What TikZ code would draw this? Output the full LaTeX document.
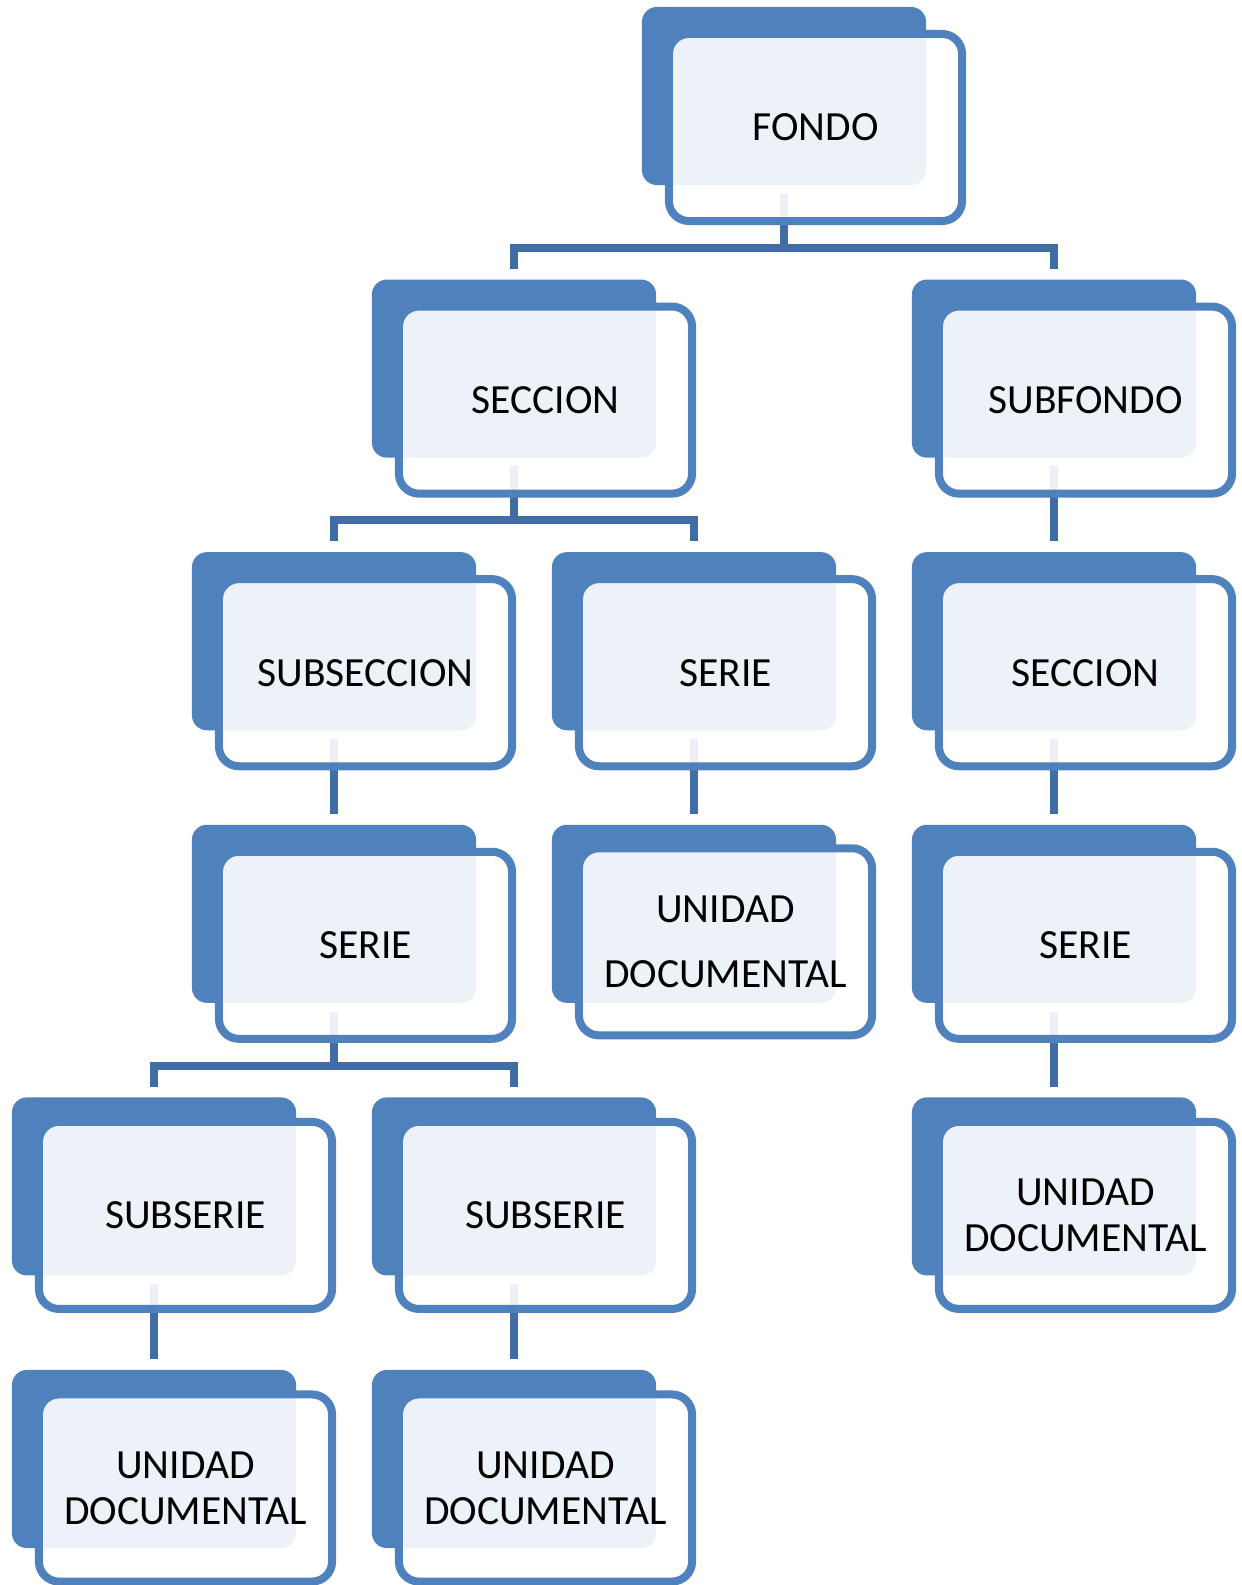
\documentclass[tikz,border=0pt]{standalone}
\usepackage{fontspec}
\setmainfont{Carlito}
\usetikzlibrary{positioning,backgrounds}
\definecolor{azul}{HTML}{4F81BD}
\definecolor{conector}{HTML}{426CA4}

\begin{document}
\begin{tikzpicture}[x=0.01cm, y=-0.01cm,
  fondoazul/.style={fill=azul, rounded corners=0.15cm, minimum width=2.84cm, minimum height=1.78cm, inner sep=0pt},
  caja/.style={draw=azul, line width=0.08cm, fill=white, fill opacity=0.9, text opacity=1, rounded corners=0.2cm,
    minimum width=2.93cm, minimum height=1.87cm, inner sep=0pt, align=center,
    font=\fontsize{11.8}{13.1}\selectfont},
  linea/.style={conector, line width=0.08cm}]
\useasboundingbox (0,0) rectangle (1241,1585);

% nivel 0
\node[fondoazul] (fondo-b) at (784, 96) {};
\node[caja] (fondo) at ([shift={(31.5,31.5)}]fondo-b.center) {FONDO};

% nivel 1
\node[fondoazul] (seccion-b) at (514, 368.6) {};
\node[caja] (seccion) at ([shift={(31.5,31.5)}]seccion-b.center) {SECCION};
\node[fondoazul] (subfondo-b) at (1054, 368.6) {};
\node[caja] (subfondo) at ([shift={(31.5,31.5)}]subfondo-b.center) {SUBFONDO};

% nivel 2
\node[fondoazul] (subseccion-b) at (334, 641.2) {};
\node[caja] (subseccion) at ([shift={(31.5,31.5)}]subseccion-b.center) {SUBSECCION};
\node[fondoazul] (serie1-b) at (694, 641.2) {};
\node[caja] (serie1) at ([shift={(31.5,31.5)}]serie1-b.center) {SERIE};
\node[fondoazul] (seccion2-b) at (1054, 641.2) {};
\node[caja] (seccion2) at ([shift={(31.5,31.5)}]seccion2-b.center) {SECCION};

% nivel 3
\node[fondoazul] (serie2-b) at (334, 913.8) {};
\node[caja] (serie2) at ([shift={(31.5,31.5)}]serie2-b.center) {SERIE};
\node[fondoazul] (unidad1-b) at (694, 913.8) {};
\node[caja, font=\fontsize{11.8}{18.5}\selectfont] (unidad1) at ([shift={(31.5,28)}]unidad1-b.center) {UNIDAD\\DOCUMENTAL};
\node[fondoazul] (serie3-b) at (1054, 913.8) {};
\node[caja] (serie3) at ([shift={(31.5,31.5)}]serie3-b.center) {SERIE};

% nivel 4
\node[fondoazul] (subserie1-b) at (154, 1186.4) {};
\node[caja] (subserie1) at ([shift={(31.5,29)}]subserie1-b.center) {SUBSERIE};
\node[fondoazul] (subserie2-b) at (514, 1186.4) {};
\node[caja] (subserie2) at ([shift={(31.5,29)}]subserie2-b.center) {SUBSERIE};
\node[fondoazul] (unidad2-b) at (1054, 1186.4) {};
\node[caja] (unidad2) at ([shift={(31.5,29)}]unidad2-b.center) {UNIDAD\\DOCUMENTAL};

% nivel 5
\node[fondoazul] (unidad3-b) at (154, 1459) {};
\node[caja] (unidad3) at ([shift={(31.5,29)}]unidad3-b.center) {UNIDAD\\DOCUMENTAL};
\node[fondoazul] (unidad4-b) at (514, 1459) {};
\node[caja] (unidad4) at ([shift={(31.5,29)}]unidad4-b.center) {UNIDAD\\DOCUMENTAL};

% conectores
\begin{scope}[on background layer]
\draw[linea] (fondo-b.south) ++(0,8) -- ++(0,54) coordinate (j0);
\draw[linea] (j0) -| ([yshift=0.1cm]seccion-b.north);
\draw[linea] (j0) -| ([yshift=0.1cm]subfondo-b.north);
\draw[linea] (seccion-b.south) ++(0,8) -- ++(0,54) coordinate (j1);
\draw[linea] (j1) -| ([yshift=0.1cm]subseccion-b.north);
\draw[linea] (j1) -| ([yshift=0.1cm]serie1-b.north);
\draw[linea] (subfondo-b.south) ++(0,8) -- ([yshift=0.1cm]seccion2-b.north);
\draw[linea] (subseccion-b.south) ++(0,8) -- ([yshift=0.1cm]serie2-b.north);
\draw[linea] (serie1-b.south) ++(0,8) -- ([yshift=0.1cm]unidad1-b.north);
\draw[linea] (seccion2-b.south) ++(0,8) -- ([yshift=0.1cm]serie3-b.north);
\draw[linea] (serie2-b.south) ++(0,8) -- ++(0,54) coordinate (j2);
\draw[linea] (j2) -| ([yshift=0.1cm]subserie1-b.north);
\draw[linea] (j2) -| ([yshift=0.1cm]subserie2-b.north);
\draw[linea] (serie3-b.south) ++(0,8) -- ([yshift=0.1cm]unidad2-b.north);
\draw[linea] (subserie1-b.south) ++(0,8) -- ([yshift=0.1cm]unidad3-b.north);
\draw[linea] (subserie2-b.south) ++(0,8) -- ([yshift=0.1cm]unidad4-b.north);
\end{scope}
\end{tikzpicture}
\end{document}
